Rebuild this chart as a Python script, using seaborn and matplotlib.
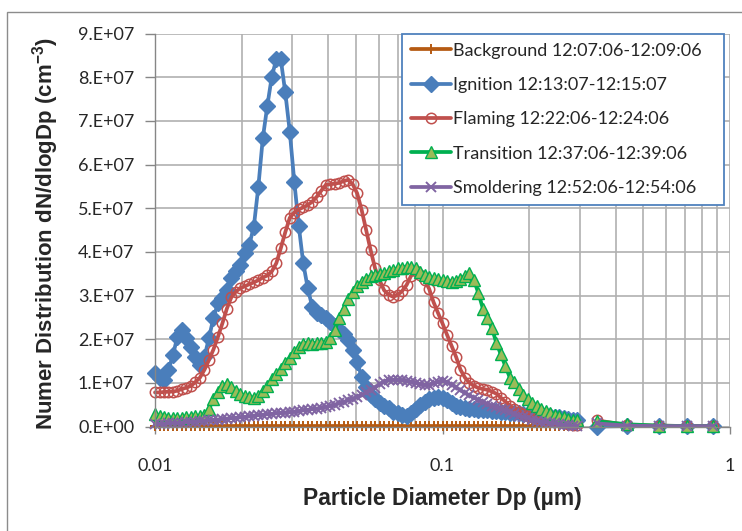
import numpy as np
import pandas as pd
import matplotlib
matplotlib.use("Agg")
import matplotlib.pyplot as plt
import matplotlib.ticker as mticker
from matplotlib.patches import Rectangle
import seaborn as sns

# SMPS channels (um), 64 per decade
smps_dp = [
    0.01000, 0.01037, 0.01075, 0.01114, 0.01155, 0.01197, 0.01241, 0.01286, 0.01334, 0.01382,
    0.01433, 0.01486, 0.01540, 0.01596, 0.01655, 0.01715, 0.01778, 0.01843, 0.01911, 0.01981,
    0.02054, 0.02129, 0.02207, 0.02288, 0.02371, 0.02458, 0.02548, 0.02642, 0.02738, 0.02839,
    0.02943, 0.03051, 0.03162, 0.03278, 0.03398, 0.03523, 0.03652, 0.03786, 0.03924, 0.04068,
    0.04217, 0.04371, 0.04532, 0.04698, 0.04870, 0.05048, 0.05233, 0.05425, 0.05623, 0.05829,
    0.06043, 0.06264, 0.06494, 0.06732, 0.06978, 0.07234, 0.07499, 0.07774, 0.08058, 0.08354,
    0.08660, 0.08977, 0.09306, 0.09647, 0.1000, 0.1037, 0.1075, 0.1114, 0.1155, 0.1197,
    0.1241, 0.1286, 0.1334, 0.1382, 0.1433, 0.1486, 0.1540, 0.1596, 0.1655, 0.1715,
    0.1778, 0.1843, 0.1911, 0.1981, 0.2054, 0.2129, 0.2207, 0.2288, 0.2371, 0.2458,
    0.2548, 0.2642, 0.2738, 0.2839, 0.2943,
]
# larger sizes (separate instrument)
aps_dp = [0.345, 0.44, 0.565, 0.71, 0.875]

# dN/dlogDp in units of 1e7 cm-3
background_smps = [
    0.01, 0.01, 0.01, 0.01, 0.01, 0.01, 0.01, 0.01, 0.01, 0.01,
    0.01, 0.01, 0.01, 0.01, 0.01, 0.01, 0.01, 0.01, 0.01, 0.01,
    0.01, 0.01, 0.01, 0.01, 0.01, 0.01, 0.01, 0.01, 0.01, 0.01,
    0.01, 0.01, 0.01, 0.01, 0.01, 0.01, 0.01, 0.01, 0.01, 0.01,
    0.01, 0.01, 0.01, 0.01, 0.01, 0.01, 0.01, 0.01, 0.01, 0.01,
    0.01, 0.01, 0.01, 0.01, 0.01, 0.01, 0.01, 0.01, 0.01, 0.01,
    0.01, 0.01, 0.01, 0.01, 0.01, 0.01, 0.01, 0.01, 0.01, 0.01,
    0.01, 0.01, 0.01, 0.01, 0.01, 0.01, 0.01, 0.01, 0.01, 0.01,
    0.01, 0.01, 0.01, 0.01, 0.01, 0.01, 0.01, 0.01, 0.01, 0.01,
    0.01, 0.01, 0.01, 0.01, 0.01,
]
ignition_smps = [
    1.22, 1.12, 1.06, 1.29, 1.64, 2.06, 2.21, 2.02, 1.83, 1.60,
    1.41, 1.60, 2.02, 2.48, 2.82, 2.94, 3.13, 3.39, 3.55, 3.70,
    3.97, 4.16, 4.58, 5.49, 6.60, 7.34, 8.01, 8.41, 8.41, 7.65,
    6.75, 5.61, 4.60, 3.74, 3.17, 2.74, 2.60, 2.55, 2.48, 2.40,
    2.30, 2.20, 2.12, 1.98, 1.75, 1.48, 1.14, 0.91, 0.72, 0.62,
    0.53, 0.47, 0.42, 0.34, 0.30, 0.26, 0.24, 0.32, 0.40, 0.50,
    0.56, 0.62, 0.66, 0.68, 0.66, 0.60, 0.54, 0.48, 0.44, 0.42,
    0.40, 0.39, 0.38, 0.37, 0.37, 0.36, 0.35, 0.34, 0.33, 0.32,
    0.31, 0.30, 0.29, 0.28, 0.27, 0.26, 0.25, 0.24, 0.23, 0.22,
    0.21, 0.20, 0.18, 0.16, 0.14,
]
flaming_smps = [
    0.78, 0.78, 0.79, 0.80, 0.80, 0.82, 0.86, 0.89, 0.93, 1.02,
    1.12, 1.30, 1.52, 1.76, 2.05, 2.36, 2.70, 2.96, 3.09, 3.17,
    3.21, 3.26, 3.30, 3.35, 3.41, 3.46, 3.55, 3.74, 4.08, 4.45,
    4.78, 4.90, 4.97, 5.02, 5.07, 5.15, 5.26, 5.40, 5.53, 5.55,
    5.56, 5.58, 5.62, 5.65, 5.55, 5.34, 4.96, 4.50, 4.04, 3.62,
    3.35, 3.12, 3.02, 2.97, 3.01, 3.10, 3.24, 3.45, 3.55, 3.46,
    3.35, 3.16, 2.85, 2.60, 2.36, 2.10, 1.85, 1.60, 1.30, 1.12,
    1.00, 0.93, 0.88, 0.86, 0.84, 0.80, 0.75, 0.66, 0.57, 0.48,
    0.40, 0.33, 0.29, 0.25, 0.22, 0.20, 0.18, 0.16, 0.14, 0.12,
    0.10, 0.08, 0.06, 0.04, 0.03,
]
transition_smps = [
    0.28, 0.24, 0.22, 0.20, 0.19, 0.19, 0.20, 0.21, 0.22, 0.23,
    0.24, 0.27, 0.40, 0.62, 0.80, 0.93, 0.97, 0.90, 0.82, 0.75,
    0.69, 0.67, 0.66, 0.70, 0.82, 0.93, 1.08, 1.20, 1.31, 1.46,
    1.58, 1.70, 1.82, 1.89, 1.92, 1.90, 1.91, 1.92, 1.94, 2.03,
    2.20, 2.48, 2.70, 2.92, 3.08, 3.22, 3.31, 3.38, 3.44, 3.48,
    3.50, 3.52, 3.55, 3.58, 3.62, 3.64, 3.66, 3.66, 3.63, 3.53,
    3.46, 3.42, 3.40, 3.38, 3.36, 3.34, 3.32, 3.33, 3.37, 3.45,
    3.51, 3.35, 3.05, 2.70, 2.48, 2.25, 1.91, 1.65, 1.38, 1.12,
    1.02, 0.86, 0.72, 0.62, 0.54, 0.46, 0.40, 0.36, 0.32, 0.27,
    0.24, 0.21, 0.18, 0.16, 0.14,
]
smoldering_smps = [
    0.05, 0.06, 0.06, 0.07, 0.08, 0.08, 0.09, 0.10, 0.10, 0.11,
    0.12, 0.13, 0.14, 0.15, 0.16, 0.17, 0.18, 0.19, 0.20, 0.21,
    0.22, 0.23, 0.25, 0.26, 0.27, 0.28, 0.29, 0.30, 0.31, 0.32,
    0.33, 0.34, 0.35, 0.37, 0.38, 0.40, 0.41, 0.43, 0.45, 0.47,
    0.50, 0.53, 0.56, 0.60, 0.64, 0.68, 0.72, 0.78, 0.83, 0.89,
    0.98, 1.03, 1.06, 1.07, 1.07, 1.06, 1.04, 1.03, 1.00, 0.97,
    0.95, 0.96, 0.99, 1.02, 1.04, 1.02, 0.96, 0.90, 0.83, 0.77,
    0.71, 0.66, 0.61, 0.56, 0.52, 0.47, 0.44, 0.40, 0.37, 0.34,
    0.29, 0.25, 0.22, 0.19, 0.16, 0.13, 0.11, 0.10, 0.08, 0.07,
    0.05, 0.04, 0.03, 0.02, 0.02,
]

background_aps = [0.01, 0.01, 0.01, 0.01, 0.01]
ignition_aps = [0.00, 0.01, 0.01, 0.01, 0.01]
flaming_aps = [0.14, 0.03, 0.02, 0.01, 0.01]
transition_aps = [0.12, 0.05, 0.02, 0.01, 0.01]
smoldering_aps = [0.07, 0.02, 0.01, 0.01, 0.01]

labels = [
    "Background 12:07:06-12:09:06",
    "Ignition 12:13:07-12:15:07",
    "Flaming 12:22:06-12:24:06",
    "Transition 12:37:06-12:39:06",
    "Smoldering 12:52:06-12:54:06",
]
smps_vals = [background_smps, ignition_smps, flaming_smps, transition_smps, smoldering_smps]
aps_vals = [background_aps, ignition_aps, flaming_aps, transition_aps, smoldering_aps]

# line / marker look per series
styles = [
    dict(color="#B55A12", marker="+", markersize=7.5, mfc="#B55A12", mec="#B55A12", mew=1.4),
    dict(color="#4A7EBB", marker="D", markersize=8.5, mfc="#4A7EBB", mec="#4A7EBB", mew=1),
    dict(color="#C0504D", marker="o", markersize=7.5, mfc="none", mec="#C0504D", mew=1.1),
    dict(color="#00B050", marker="^", markersize=8, mfc="#9BBB59", mec="#00B050", mew=1),
    dict(color="#8064A2", marker="x", markersize=7, mfc="#8064A2", mec="#8064A2", mew=1.4),
]

sns.set_style("white")
plt.rcParams["font.family"] = ["Lato", "DejaVu Sans"]
plt.rcParams["mathtext.fontset"] = "custom"
plt.rcParams["mathtext.rm"] = "Liberation Sans:bold"
plt.rcParams["mathtext.default"] = "rm"

fig = plt.figure(figsize=(7.42, 5.31), dpi=100)
ax = fig.add_axes([155 / 742, 1 - 426.5 / 531, 575 / 742, 393 / 531])

for name, sv, av, st in zip(labels, smps_vals, aps_vals, styles):
    df_s = pd.DataFrame({"dp": smps_dp, "dndlogdp": np.array(sv) * 1e7})
    df_a = pd.DataFrame({"dp": aps_dp, "dndlogdp": np.array(av) * 1e7})
    sns.lineplot(data=df_s, x="dp", y="dndlogdp", ax=ax, label=name, lw=2.7,
                 clip_on=False, **st)
    sns.lineplot(data=df_a, x="dp", y="dndlogdp", ax=ax, legend=False, lw=2.7,
                 clip_on=False, **st)

ax.set_xscale("log")
ax.set_xlim(0.01, 1)
ax.set_ylim(0, 9e7)
ax.set_xticks([0.01, 0.1, 1])
ax.xaxis.set_major_formatter(mticker.FixedFormatter(["0.01", "0.1", "1"]))
ax.xaxis.set_minor_locator(mticker.LogLocator(base=10, subs=np.arange(2, 10)))
ax.xaxis.set_minor_formatter(mticker.NullFormatter())
ax.set_yticks(np.arange(0, 9.5e7, 1e7))
ax.yaxis.set_major_formatter(mticker.FuncFormatter(
    lambda v, p: "0.E+00" if v == 0 else f"{int(round(v / 1e7))}.E+07"))

grid_c = "#B0B0B0"
ax.set_axisbelow(True)
ax.grid(True, which="both", axis="x", color=grid_c, lw=1.2)
ax.grid(True, which="major", axis="y", color=grid_c, lw=1.2)
for s in ["top", "right"]:
    ax.spines[s].set_visible(False)
for s in ["left", "bottom"]:
    ax.spines[s].set_color("#868686")
    ax.spines[s].set_linewidth(1)

ax.tick_params(axis="y", which="major", direction="out", length=7, width=1,
               color="#868686", pad=8, labelsize=13, left=True)
ax.tick_params(axis="x", which="major", direction="out", length=5, width=1,
               color="#868686", pad=18, labelsize=13, bottom=True)
ax.tick_params(axis="x", which="minor", length=0)

ax.set_xlabel("Particle Diameter Dp (µm)", family="Liberation Sans",
              fontweight="bold", fontsize=16.5)
ax.set_ylabel("Numer Distribution dN/dlogDp (cm$^{-3}$)", family="Liberation Sans",
              fontweight="bold", fontsize=16)
ax.xaxis.set_label_coords(0.5, -0.155)
ax.yaxis.set_label_coords(-0.163, 0.49)

handles, labs = ax.get_legend_handles_labels()
leg = ax.legend(handles, labs, loc="upper left",
                bbox_to_anchor=(402 / 742, 1 - 207 / 531, 322 / 742, 173.5 / 531),
                bbox_transform=fig.transFigure, mode="expand", borderaxespad=0,
                fontsize=13, frameon=True, fancybox=False, framealpha=1,
                edgecolor="#4F81BD", handlelength=2.2, handletextpad=0.15,
                labelspacing=1.02, borderpad=0.5, numpoints=1)
leg.get_frame().set_linewidth(1.3)

# outer chart frame
fig.add_artist(Rectangle((7 / 742, -0.1), 1.2, 1 - 12 / 531 + 0.1,
                         transform=fig.transFigure, fill=False,
                         ec="#8C8C8C", lw=1))

fig.savefig("out.png", dpi=100)
